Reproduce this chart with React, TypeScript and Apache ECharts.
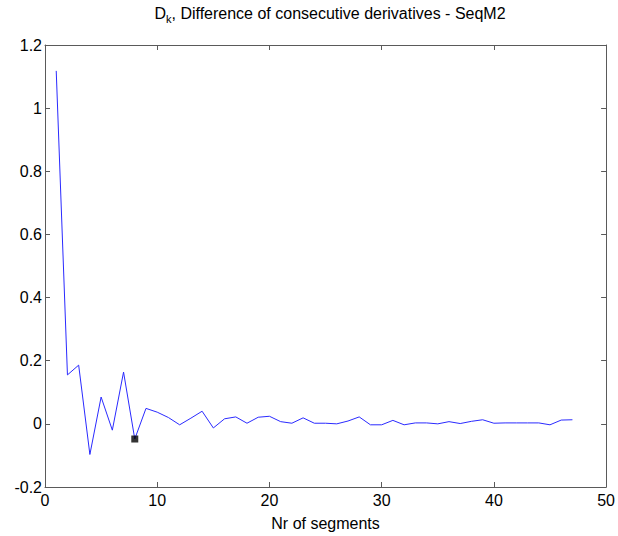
import React, { useEffect, useRef } from "react";
import * as echarts from "echarts";

const segments: number[] = Array.from({ length: 47 }, (_, i) => i + 1);
const dk: number[] = [
  1.118, 0.155, 0.186, -0.097, 0.085, -0.02, 0.164, -0.048, 0.049, 0.037,
  0.02, -0.003, 0.018, 0.04, -0.013, 0.016, 0.022, 0.002, 0.021, 0.024,
  0.007, 0.002, 0.019, 0.002, 0.002, 0.0, 0.009, 0.022, -0.003, -0.003,
  0.011, -0.003, 0.003, 0.003, 0.0, 0.007, 0.001, 0.008, 0.013, 0.002,
  0.003, 0.003, 0.003, 0.003, -0.003, 0.012, 0.013,
];
const markedX: number[] = [8];
const markedY: number[] = [-0.048];
const xTicks = { min: 0, max: 50, interval: 10 };
const yTicks = { min: -0.2, max: 1.2, interval: 0.2 };

const FONT = "'Liberation Sans', Arial, Helvetica, sans-serif";
const AXIS_COLOR = "#5a5a5a";

export default function App() {
  const ref = useRef<HTMLDivElement>(null);
  useEffect(() => {
    if (!ref.current) return;
    const chart = echarts.init(ref.current, undefined, { renderer: "svg" });
    const fmtY = (v: number) => String(parseFloat(v.toFixed(1)));
    const commonAxis = {
      axisLine: { show: true, onZero: false, lineStyle: { color: AXIS_COLOR, width: 1 } },
      axisTick: { show: true, inside: true, length: 5, lineStyle: { color: AXIS_COLOR } },
      splitLine: { show: false },
    };
    chart.setOption({
      animation: false,
      backgroundColor: "#ffffff",
      textStyle: { fontFamily: FONT },
      title: {
        text: "{d|D}{sub|k}{t|, Difference of consecutive derivatives - SeqM2}",
        left: 325,
        top: -2,
        textAlign: "center",
        textStyle: {
          fontWeight: "normal",
          rich: {
            d: { fontSize: 16, color: "#000", fontFamily: FONT, fontWeight: "normal" },
            sub: { fontSize: 11, color: "#000", fontFamily: FONT, fontWeight: "normal", padding: [10, 0, 0, 0] },
            t: { fontSize: 16, color: "#000", fontFamily: FONT, fontWeight: "normal" },
          },
        },
      },
      grid: { left: 45, right: 9, top: 45, bottom: 46, containLabel: false },
      xAxis: [
        {
          type: "value",
          min: xTicks.min,
          max: xTicks.max,
          interval: xTicks.interval,
          position: "bottom",
          name: "Nr of segments",
          nameLocation: "middle",
          nameGap: 28,
          nameTextStyle: { fontSize: 16, color: "#000", fontFamily: FONT },
          axisLabel: { fontSize: 16, color: "#000", margin: 5, fontFamily: FONT },
          ...commonAxis,
        },
        {
          type: "value",
          min: xTicks.min,
          max: xTicks.max,
          interval: xTicks.interval,
          position: "top",
          axisLabel: { show: false },
          ...commonAxis,
        },
      ],
      yAxis: [
        {
          type: "value",
          min: yTicks.min,
          max: yTicks.max,
          interval: yTicks.interval,
          position: "left",
          axisLabel: { fontSize: 16, color: "#000", margin: 3, fontFamily: FONT, formatter: fmtY },
          ...commonAxis,
        },
        {
          type: "value",
          min: yTicks.min,
          max: yTicks.max,
          interval: yTicks.interval,
          position: "right",
          axisLabel: { show: false },
          ...commonAxis,
        },
      ],
      series: [
        {
          type: "line",
          data: segments.map((x, i) => [x, dk[i]]),
          showSymbol: false,
          symbol: "none",
          lineStyle: { color: "#2a2aff", width: 1 },
          itemStyle: { color: "#2a2aff" },
          z: 2,
        },
        {
          type: "scatter",
          data: markedX.map((x, i) => [x, markedY[i]]),
          symbol: "rect",
          symbolSize: 7,
          itemStyle: { color: "#000" },
          z: 3,
        },
      ],
    });
    return () => chart.dispose();
  }, []);
  return (
    <div
      ref={ref}
      style={{ position: "fixed", left: 0, top: 0, width: 618, height: 536, background: "#fff" }}
    />
  );
}
